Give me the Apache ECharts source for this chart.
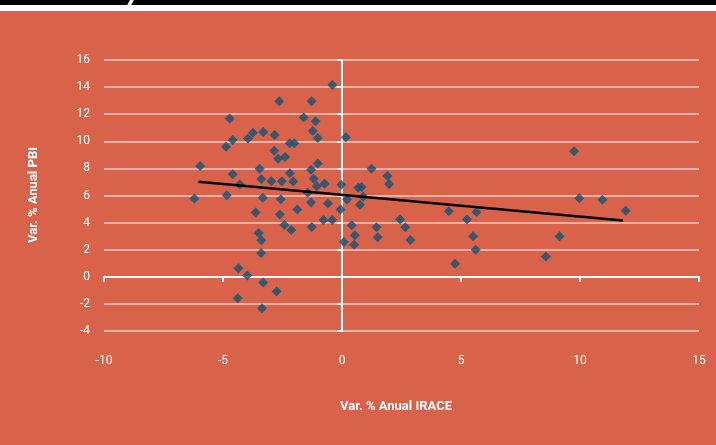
<!DOCTYPE html>
<html><head><meta charset="utf-8">
<script src="https://cdn.jsdelivr.net/npm/echarts@6/dist/echarts.min.js"></script>
<style>html,body{margin:0;padding:0;background:#D9634A}#c{width:716px;height:445px}</style>
</head><body><div id="c"></div>
<script>
const xValues = [-0.41,-2.64,-1.28,-4.72,-1.61,-1.11,-3.74,-3.31,-2.83,-1.23,-4.59,-3.95,-1.02,0.16,-4.87,-2.2,-2.0,-2.85,-2.68,-2.39,-1.02,-5.96,-3.46,-1.3,-4.59,-2.19,-3.39,-2.97,-2.53,-2.05,-1.19,-4.29,-1.06,-0.73,-0.03,0.68,
 -6.2,-4.84,-3.33,-2.57,-1.44,-1.3,-0.59,0.21,-3.63,-2.61,-1.88,-0.06,-0.78,-0.41,-2.42,-2.13,-1.27,0.41,0.54,-3.5,-3.39,0.08,0.51,-3.4,-4.35,-3.98,-3.31,-2.75,-4.38,-3.36,
 1.24,1.91,1.98,0.82,0.89,0.75,1.45,1.5,2.44,2.66,2.87,4.49,4.75,5.25,5.65,5.51,5.62,8.56,9.14,9.75,9.97,10.94,11.92];
const yValues = [14.15,12.96,12.96,11.68,11.76,11.48,10.64,10.69,10.47,10.76,10.1,10.2,10.24,10.3,9.6,9.85,9.85,9.31,8.72,8.84,8.37,8.17,7.98,7.9,7.56,7.65,7.21,7.06,7.06,7.04,7.24,6.81,6.69,6.87,6.79,6.57,
 5.78,6.02,5.83,5.73,6.2,5.48,5.41,5.7,4.74,4.59,4.96,4.96,4.2,4.2,3.83,3.46,3.68,3.8,3.06,3.23,2.69,2.57,2.37,1.75,0.64,0.1,-0.42,-1.09,-1.58,-2.32,
 7.98,7.43,6.84,6.62,5.9,5.31,3.65,2.91,4.22,3.65,2.72,4.84,0.96,4.22,4.79,2.99,2.0,1.5,2.99,9.26,5.8,5.68,4.87];
const trendX = [-6.03, 11.8];
const trendY = [7.01, 4.15];
const xTicks = [-10,-5,0,5,10,15];
const yTicks = [-4,-2,0,2,4,6,8,10,12,14,16];

const chart = echarts.init(document.getElementById('c'));
const lbl = {color:'#fff', fontSize:12, fontFamily:'Roboto, sans-serif'};
chart.setOption({
  backgroundColor:'#D9634A',
  animation:false,
  grid:{left:104, right:17, top:60, bottom:114},
  xAxis:[
    {type:'value',min:-10,max:15,interval:5,
     axisLine:{onZero:true,onZeroAxisIndex:0,lineStyle:{color:'#fff',width:2}},
     axisTick:{show:true,length:5,lineStyle:{color:'#fff',width:2}},
     axisLabel:{show:false},splitLine:{show:false}},
    {type:'value',min:-10,max:15,interval:5,position:'bottom',
     axisLine:{show:false,onZero:false},axisTick:{show:false},
     axisLabel:Object.assign({margin:24},lbl),splitLine:{show:false}}
  ],
  yAxis:[
    {type:'value',min:-4,max:16,interval:2,
     axisLine:{onZero:true,onZeroAxisIndex:0,lineStyle:{color:'#fff',width:2}},
     axisTick:{show:true,length:5,lineStyle:{color:'#fff',width:2}},
     axisLabel:{show:false},splitLine:{show:false}},
    {type:'value',min:-4,max:16,interval:2,position:'left',
     axisLine:{show:false,onZero:false},axisTick:{show:false},
     axisLabel:Object.assign({margin:14},lbl),
     splitLine:{show:true,lineStyle:{color:'rgba(255,255,255,0.5)',width:2}}}
  ],
  graphic:[
    {type:'rect',shape:{x:0,y:0,width:716,height:11},style:{fill:'#fff'},z:100},
    {type:'rect',shape:{x:0,y:0,width:716,height:5},style:{fill:'#000'},z:101},
    {type:'polygon',shape:{points:[[124,11],[128,11],[134,0],[130,0]]},style:{fill:'#fff'},z:102},
    {type:'text',left:400-60,top:400,style:{text:'Var. % Anual IRACE',fill:'#fff',font:'bold 13px "Liberation Sans Narrow", Roboto, sans-serif'}},
    {type:'text',x:34,y:195,rotation:Math.PI/2,style:{text:'Var. % Anual PBI',fill:'#fff',align:'center',verticalAlign:'middle',font:'bold 13px "Liberation Sans Narrow", Roboto, sans-serif'}}
  ],
  series:[
    {type:'scatter',xAxisIndex:0,yAxisIndex:0,symbol:'diamond',symbolSize:10,
     itemStyle:{color:'#0C5479'},data:xValues.map((x,i)=>[x,yValues[i]]),z:3},
    {type:'line',xAxisIndex:0,yAxisIndex:0,symbol:'none',lineStyle:{color:'#000',width:2.5},
     data:trendX.map((x,i)=>[x,trendY[i]]),z:4}
  ]
});
</script></body></html>
